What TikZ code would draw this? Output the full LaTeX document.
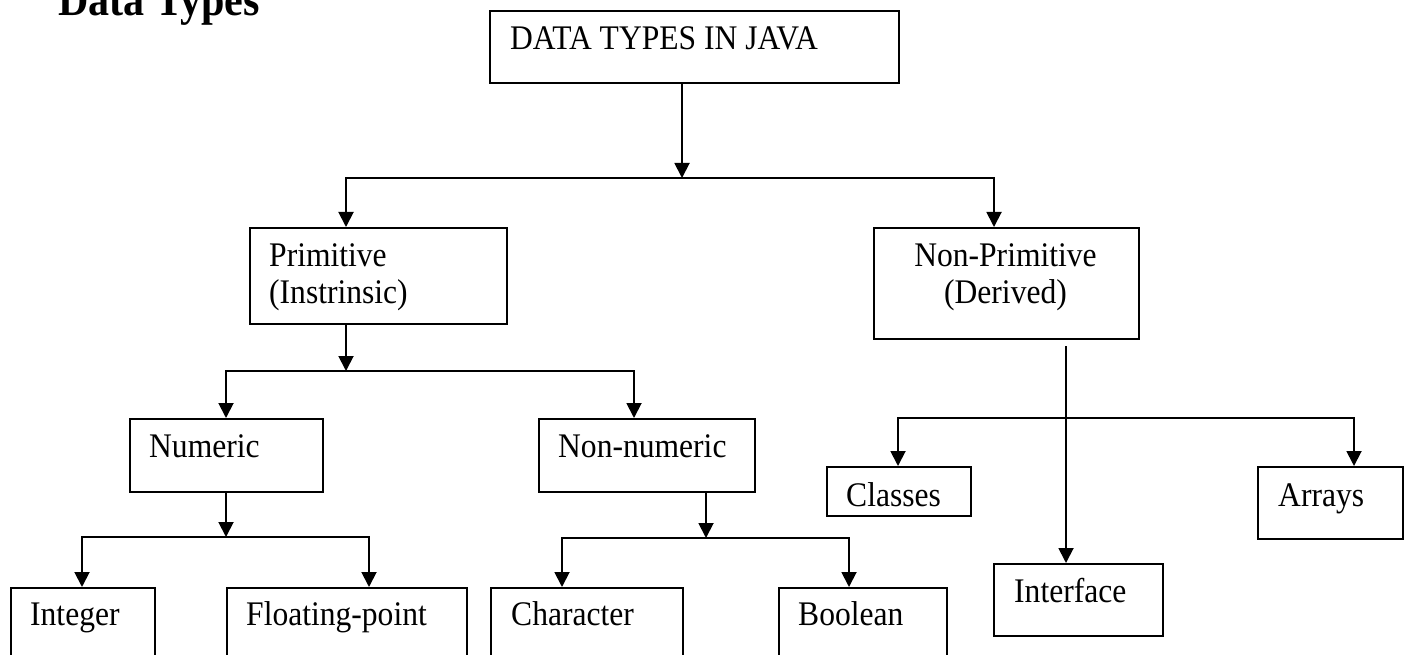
\documentclass[tikz,border=0pt]{standalone}
\usepackage{fontspec}
\setmainfont[FakeStretch=0.915]{Liberation Serif}
\usetikzlibrary{arrows.meta}
\begin{document}
\begin{tikzpicture}[x=1pt, y=-1pt,
  box/.style={draw, line width=1.9pt, rectangle, inner sep=0pt, anchor=north west},
  lbl/.style={anchor=base west, inner sep=0pt, font=\fontsize{34.5}{37}\selectfont},
  link/.style={line width=1.9pt},
  arr/.style={link, -{Triangle[width=15pt,length=15pt]}}]

\useasboundingbox (0,0) rectangle (1405,655);
\clip (0,0) rectangle (1405,655);

% heading
\node[anchor=base west, inner sep=0pt, font=\bfseries\fontsize{46}{50}\selectfont] (title) at (58,16) {Data Types};

% boxes
\node[box, minimum width=409pt, minimum height=72pt]  (java)    at (489,10)  {};
\node[box, minimum width=257pt, minimum height=96pt]  (prim)    at (249,227) {};
\node[box, minimum width=265pt, minimum height=111pt] (nonprim) at (873,227) {};
\node[box, minimum width=193pt, minimum height=73pt]  (num)     at (129,418) {};
\node[box, minimum width=216pt, minimum height=73pt]  (nonnum)  at (538,418) {};
\node[box, minimum width=144pt, minimum height=100pt] (int)     at (10,587)  {};
\node[box, minimum width=240pt, minimum height=100pt] (float)   at (226,587) {};
\node[box, minimum width=192pt, minimum height=100pt] (char)    at (490,587) {};
\node[box, minimum width=168pt, minimum height=100pt] (bool)    at (778,587) {};
\node[box, minimum width=144pt, minimum height=49pt]  (classes) at (826,466) {};
\node[box, minimum width=145pt, minimum height=72pt]  (arrays)  at (1257,466) {};
\node[box, minimum width=169pt, minimum height=72pt]  (iface)   at (993,563) {};

% labels
\node[lbl] (tjava) at (510,50) {DATA TYPES IN JAVA};
\node[lbl] (tprim) at (269,266) {\begin{tabular}[t]{@{}l@{}}Primitive\\(Instrinsic)\end{tabular}};
\node[lbl, anchor=base] (tnonprim) at (1005.5,266) {\begin{tabular}[t]{@{}c@{}}Non-Primitive\\(Derived)\end{tabular}};
\node[lbl] (tnum)    at (149,457)  {Numeric};
\node[lbl] (tnonnum) at (558,457)  {Non-numeric};
\node[lbl] (tint)    at (30,625)   {Integer};
\node[lbl] (tfloat)  at (246,625)  {Floating-point};
\node[lbl] (tchar)   at (511,625)  {Character};
\node[lbl] (tbool)   at (798,625)  {Boolean};
\node[lbl] (tclass)  at (846,506)  {Classes};
\node[lbl] (tiface)  at (1014,602) {Interface};
\node[lbl] (tarr)    at (1278,506) {Arrays};

% junctions and drop points
\coordinate (j0) at (682,178);
\coordinate (dprim) at (346,227);
\coordinate (dnonprim) at (994,227);
\coordinate (j1) at (346,371);
\coordinate (dnum) at (226,418);
\coordinate (dnonnum) at (634,418);
\coordinate (j2) at (226,537);
\coordinate (dint) at (82,587);
\coordinate (dfloat) at (369,587);
\coordinate (j3) at (706,538);
\coordinate (dchar) at (562,587);
\coordinate (dbool) at (849,587);
\coordinate (s4) at (1066,346);
\coordinate (j4) at (1066,418);
\coordinate (dclass) at (898,466);
\coordinate (darr) at (1354,466);

% connectors
\draw[arr] (j0 |- java.south) -- (j0);
\draw[arr] (j0) -| (dprim);
\draw[arr] (j0) -| (dnonprim);

\draw[arr] (j1 |- prim.south) -- (j1);
\draw[arr] (j1) -| (dnum);
\draw[arr] (j1) -| (dnonnum);

\draw[arr] (j2 |- num.south) -- (j2);
\draw[arr] (j2) -| (dint);
\draw[arr] (j2) -| (dfloat);

\draw[arr] (j3 |- nonnum.south) -- (j3);
\draw[arr] (j3) -| (dchar);
\draw[arr] (j3) -| (dbool);

\draw[arr] (s4) -- (s4 |- iface.north);
\draw[arr] (j4) -| (dclass);
\draw[arr] (j4) -| (darr);
\end{tikzpicture}
\end{document}
